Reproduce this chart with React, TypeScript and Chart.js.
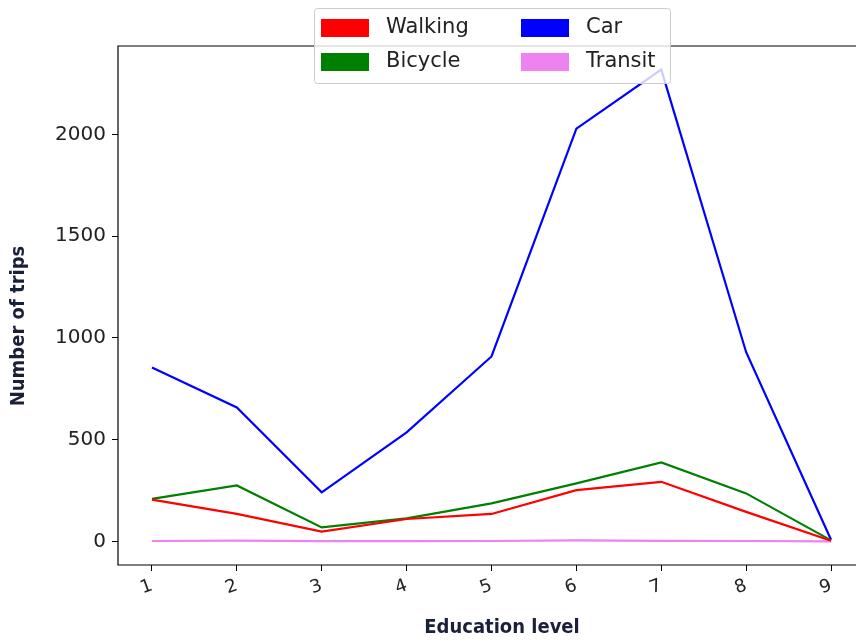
import React, { useEffect, useRef } from "react";
import { Chart, registerables } from "chart.js";

Chart.register(...registerables);

const levels = [1, 2, 3, 4, 5, 6, 7, 8, 9];
const walking = [205, 135, 48, 110, 135, 252, 293, 145, 3];
const bicycle = [209, 275, 69, 113, 187, 285, 388, 236, 5];
const car = [855, 658, 241, 536, 909, 2029, 2319, 930, 8];
const transit = [2, 4, 1, 1, 2, 5, 3, 2, 0];
const yTicks = [0, 500, 1000, 1500, 2000];

const seriesNames = ["Walking", "Bicycle", "Car", "Transit"];
const seriesColors = ["#ff0000", "#008000", "#0000ff", "#ee82ee"];
const seriesValues = [walking, bicycle, car, transit];
const xTitle = "Education level";
const yTitle = "Number of trips";

const TITLE_FONT = "bold 20px 'Liberation Sans Narrow', 'DejaVu Sans Condensed'";

const framePlugin = {
  id: "frame",
  afterDatasetsDraw(chart: any) {
    const { ctx, chartArea: a } = chart;
    ctx.save();
    ctx.strokeStyle = "#000";
    ctx.lineWidth = 1.2;
    ctx.beginPath();
    ctx.moveTo(a.right + 5, a.top);
    ctx.lineTo(a.left, a.top);
    ctx.lineTo(a.left, a.bottom);
    ctx.lineTo(a.right + 5, a.bottom);
    ctx.stroke();
    ctx.restore();
  },
  afterDraw(chart: any) {
    const { ctx } = chart;
    ctx.save();
    ctx.fillStyle = "#1a1f3a";
    ctx.font = TITLE_FONT;
    ctx.textAlign = "center";
    ctx.textBaseline = "middle";
    ctx.fillText(xTitle, 502, 628);
    ctx.translate(19, 326);
    ctx.rotate(-Math.PI / 2);
    ctx.fillText(yTitle, 0, 0);
    ctx.restore();
  },
};

const legendPlugin = {
  id: "mplLegend",
  afterDraw(chart: any) {
    const { ctx } = chart;
    const x0 = 314, y0 = 8, w = 356, h = 75;
    ctx.save();
    ctx.fillStyle = "rgba(255,255,255,0.8)";
    ctx.strokeStyle = "#cccccc";
    ctx.lineWidth = 1;
    ctx.beginPath();
    (ctx as any).roundRect(x0 + 0.5, y0 + 0.5, w, h, 3);
    ctx.fill();
    ctx.stroke();
    const ds = chart.data.datasets;
    ds.forEach((d: any, i: number) => {
      const col = Math.floor(i / 2);
      const row = i % 2;
      const px = 321 + col * 200;
      const py = 19 + row * 34;
      ctx.fillStyle = d.borderColor;
      ctx.fillRect(px, py, 48, 18);
      ctx.fillStyle = "#222";
      ctx.font = "21px 'DejaVu Sans'";
      ctx.textBaseline = "middle";
      ctx.textAlign = "left";
      ctx.fillText(d.label, px + 65, py + 9);
    });
    ctx.restore();
  },
};

export default function App() {
  const ref = useRef<HTMLCanvasElement>(null);
  useEffect(() => {
    document.body.style.margin = "0";
    const chart = new Chart(ref.current!, {
      type: "line",
      data: {
        datasets: seriesNames.map((name, i) => ({
          label: name,
          data: levels.map((lv, j) => ({ x: lv, y: seriesValues[i][j] })),
          borderColor: seriesColors[i],
          backgroundColor: seriesColors[i],
          borderWidth: 2.2,
          pointRadius: 0,
          tension: 0,
        })),
      },
      options: {
        animation: false,
        responsive: false,
        layout: { padding: { top: 46, right: 15, left: 0, bottom: 0 } },
        plugins: { legend: { display: false }, tooltip: { enabled: false } },
        scales: {
          x: {
            type: "linear",
            min: 0.6,
            max: 9.4,
            afterBuildTicks: (s: any) => {
              s.ticks = levels.map((v) => ({ value: v }));
            },
            afterFit: (s: any) => {
              s.height = 76;
            },
            grid: {
              display: true,
              drawOnChartArea: false,
              drawTicks: true,
              tickLength: 6,
              tickColor: "#000",
            },
            border: { display: false },
            ticks: {
              color: "#222",
              font: { family: "'DejaVu Sans'", size: 18 },
              maxRotation: 20,
              minRotation: 20,
              padding: 4,
              callback: (v: any) => String(v),
            },
            title: { display: false },
          },
          y: {
            type: "linear",
            min: -116,
            max: 2435,
            afterBuildTicks: (s: any) => {
              s.ticks = yTicks.map((v) => ({ value: v }));
            },
            afterFit: (s: any) => {
              s.width = 118;
            },
            grid: {
              display: true,
              drawOnChartArea: false,
              drawTicks: true,
              tickLength: 6,
              tickColor: "#000",
            },
            border: { display: false },
            ticks: {
              color: "#222",
              font: { family: "'DejaVu Sans'", size: 20 },
              padding: 6,
              callback: (v: any) => String(v),
            },
            title: { display: false },
          },
        },
      },
      plugins: [framePlugin, legendPlugin],
    } as any);
    return () => chart.destroy();
  }, []);
  return (
    <div style={{ width: 856, height: 641, overflow: "hidden" }}>
      <canvas ref={ref} width={880} height={641} style={{ display: "block" }} />
    </div>
  );
}
